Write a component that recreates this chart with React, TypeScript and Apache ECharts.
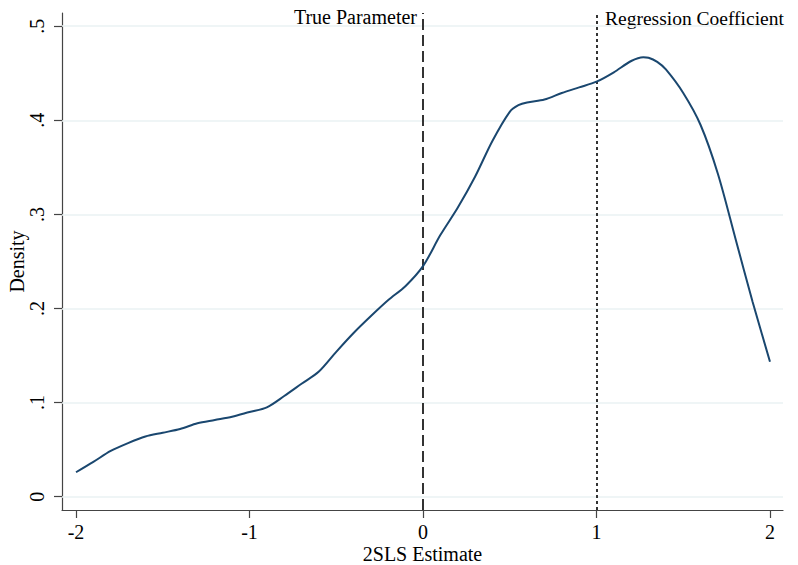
import React, { useEffect, useRef } from "react";
import * as echarts from "echarts";

const estimateX = [
  -2.0, -1.9, -1.8, -1.7, -1.6, -1.5, -1.4, -1.3, -1.2, -1.1, -1.0, -0.9, -0.8, -0.7, -0.6,
  -0.5, -0.4, -0.3, -0.2, -0.1, 0.0, 0.1, 0.2, 0.3, 0.4, 0.5, 0.55, 0.6, 0.7, 0.8, 0.9,
  1.0, 1.1, 1.2, 1.27, 1.3, 1.35, 1.4, 1.5, 1.6, 1.7, 1.8, 1.9, 2.0,
];
const densityY = [
  0.026, 0.037, 0.0486, 0.057, 0.064, 0.068, 0.072, 0.078, 0.0815, 0.085, 0.09, 0.095, 0.107,
  0.12, 0.133, 0.154, 0.174, 0.192, 0.209, 0.224, 0.245, 0.278, 0.307, 0.34, 0.378, 0.409,
  0.416, 0.419, 0.422, 0.429, 0.435, 0.441, 0.451, 0.463, 0.467, 0.4665, 0.462, 0.454, 0.429,
  0.395, 0.343, 0.275, 0.207, 0.1435,
];
const xTicks = [-2, -1, 0, 1, 2];
const yTicks = [0, 0.1, 0.2, 0.3, 0.4, 0.5];
const trueParameter = 0;
const regressionCoefficient = 1;

const FONT = "'Liberation Serif', 'Times New Roman', serif";
const FS = 20;

export default function App() {
  const ref = useRef<HTMLDivElement>(null);
  useEffect(() => {
    if (!ref.current) return;
    const chart = echarts.init(ref.current, null, { renderer: "svg" });
    const data = estimateX.map((x, i) => [x, densityY[i]]);
    chart.setOption({
      animation: false,
      backgroundColor: "#ffffff",
      grid: { left: 62, right: 15, top: 13, bottom: 55, containLabel: false, outerBoundsMode: "none" },
      xAxis: {
        type: "value",
        min: -2.0807,
        max: 2.075,
        name: "2SLS Estimate",
        nameLocation: "middle",
        nameGap: 35,
        nameMoveOverlap: false,
        nameTextStyle: { fontFamily: FONT, fontSize: FS, color: "#000", lineHeight: 18 },
        axisLine: { show: true, onZero: false, lineStyle: { color: "#444", width: 1.2 } },
        axisTick: { show: true, length: 8, customValues: xTicks, lineStyle: { color: "#444", width: 1.2 } },
        axisLabel: {
          customValues: xTicks,
          margin: 13,
          fontFamily: FONT,
          fontSize: FS,
          lineHeight: 18,
          color: "#000",
          formatter: (v: number) => String(v),
        },
        splitLine: { show: false },
      },
      yAxis: {
        type: "value",
        min: -0.0141,
        max: 0.514,
        name: "Density",
        nameLocation: "middle",
        nameGap: 35,
        nameMoveOverlap: false,
        nameRotate: 90,
        nameTextStyle: { fontFamily: FONT, fontSize: FS, color: "#000" },
        axisLine: { show: true, onZero: false, lineStyle: { color: "#444", width: 1.2 } },
        axisTick: { show: true, length: 8, customValues: yTicks, lineStyle: { color: "#444", width: 1.2 } },
        axisLabel: {
          customValues: yTicks,
          rotate: 90,
          margin: 15,
          fontFamily: FONT,
          fontSize: FS,
          color: "#000",
          formatter: (v: number) => (v === 0 ? "0" : "." + Math.round(v * 10)),
        },
        splitLine: { show: false },
      },
      series: [
        {
          type: "line",
          data: [],
          silent: true,
          z: 1,
          markLine: {
            silent: true,
            z: 1,
            symbol: "none",
            label: { show: false },
            lineStyle: { color: "#eaf2f3", width: 1.5, type: "solid" },
            data: yTicks.map((v) => ({ yAxis: v })),
          },
        },
        {
          type: "line",
          data: [],
          silent: true,
          z: 2,
          markLine: {
            silent: true,
            z: 2,
            symbol: "none",
            label: { show: false },
            data: [
              { xAxis: trueParameter, lineStyle: { color: "#333", width: 2, type: [11, 5] } },
              { xAxis: regressionCoefficient, lineStyle: { color: "#333", width: 2, type: [3, 3] } },
            ],
          },
        },
        {
          type: "line",
          data,
          smooth: 0.3,
          showSymbol: false,
          symbol: "none",
          lineStyle: { color: "#1a476f", width: 2 },
          z: 10,
        },
      ],
      graphic: [
        {
          type: "text",
          x: 417,
          y: 17,
          style: {
            text: "True Parameter",
            fontFamily: FONT,
            fontSize: FS,
            fill: "#000",
            align: "right",
            verticalAlign: "middle",
          },
        },
        {
          type: "text",
          x: 605,
          y: 18,
          style: {
            text: "Regression Coefficient",
            fontFamily: FONT,
            fontSize: 19.5,
            fill: "#000",
            align: "left",
            verticalAlign: "middle",
          },
        },
      ],
    });
    return () => chart.dispose();
  }, []);
  return <div ref={ref} style={{ width: 798, height: 565, position: "absolute", left: 0, top: 0 }} />;
}
